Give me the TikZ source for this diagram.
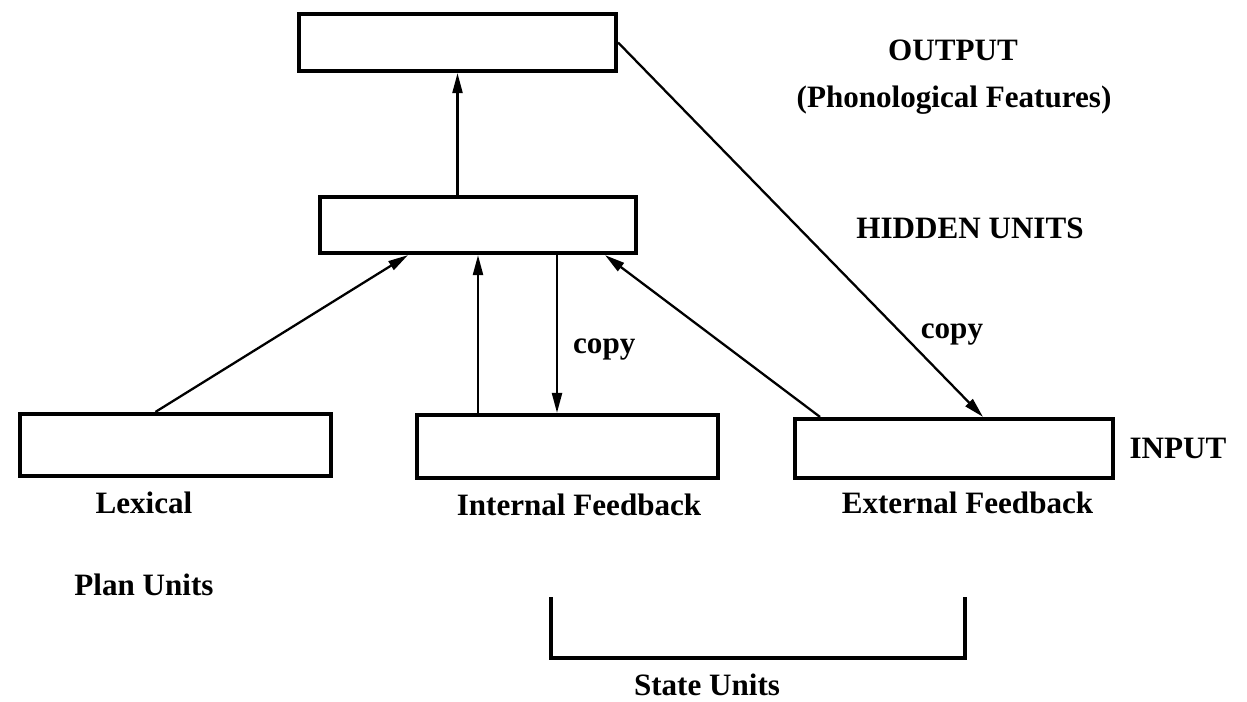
\documentclass[tikz,border=0pt]{standalone}
\usepackage{fontspec}
\setmainfont{Liberation Serif}
\usetikzlibrary{positioning,arrows.meta,calc}

\tikzset{
  unitbox/.style={draw, line width=2.4pt, inner sep=0pt},
  link/.style={line width=1.3pt, -{Triangle[length=4mm,width=2mm]}},
  lbl/.style={font=\fontsize{17.7}{21}\selectfont\bfseries, inner sep=0pt}
}

\begin{document}
\begin{tikzpicture}[x=0.02cm, y=-0.02cm]
        \useasboundingbox (0,0) rectangle (1247,701);

        \draw (457.5,42.5) node[unitbox, minimum width=6.34cm, minimum height=1.14cm] (output) {};

        \draw (478,225) node[unitbox, minimum width=6.32cm, minimum height=1.12cm] (hidden) {};

        \draw (175.5,445) node[unitbox, minimum width=6.22cm, minimum height=1.24cm] (lexical) {};

        \draw (567.5,446.5) node[unitbox, minimum width=6.02cm, minimum height=1.26cm] (internal) {};

        \draw (954,448.5) node[unitbox, minimum width=6.36cm, minimum height=1.18cm] (external) {};

        \draw (953,50) node[lbl] (outlbl) {OUTPUT};

        \draw (954,100) node[lbl] (phonlbl) {(Phonological Features)};

        \draw (970,228) node[lbl] (hidlbl) {HIDDEN UNITS};

        \draw (1178,448) node[lbl] (inlbl) {INPUT};

        \draw (144,503) node[lbl] (lexlbl) {Lexical};

        \draw (579,505) node[lbl] (intlbl) {Internal Feedback};

        \draw (967.5,503) node[lbl] (extlbl) {External Feedback};

        \draw (144,585) node[lbl] (planlbl) {Plan Units};

        \draw (707,685) node[lbl] (statelbl) {State Units};

        \coordinate (copytop) at ($(hidden.south)+(79,0)$);

        \draw[link] (hidden.north -| output.south) to (output.south);

        \draw[link] ($(lexical.north)+(-20,0)$) to ($(hidden.south)+(-70,0)$);

        \draw[link] (internal.north -| hidden.south) to (hidden.south);

        \draw[link] (copytop) to node[lbl, pos=0.6, anchor=west, xshift=3mm] {copy}
        (copytop |- internal.north);

        \draw[link] ($(external.north)+(-134,0)$) to ($(hidden.south)+(127,0)$);

        \draw[link] (output.east) to node[lbl, pos=0.78, anchor=west, xshift=3.4mm] {copy}
        ($(external.north)+(29,0)$);

        \draw[line width=2.2pt] (551,597) -- (551,658) -- (965,658) -- (965,597);
      \end{tikzpicture}
\end{document}
